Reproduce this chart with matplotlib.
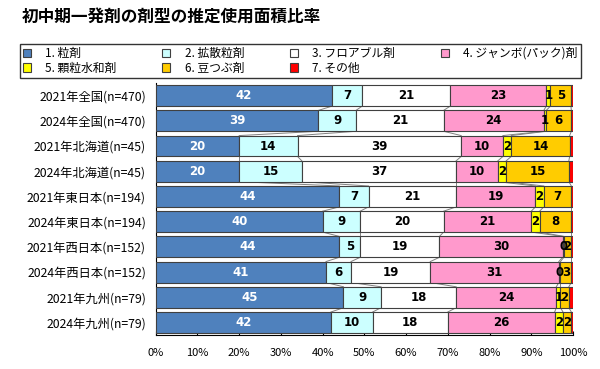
import numpy as np
import matplotlib
matplotlib.use("Agg")
import matplotlib.pyplot as plt

plt.rcParams['font.family'] = ['Noto Sans CJK JP', 'DejaVu Sans']

# 地域・年ごとのカテゴリ
categories = ["2021年全国(n=470)", "2024年全国(n=470)", "2021年北海道(n=45)", "2024年北海道(n=45)",
              "2021年東日本(n=194)", "2024年東日本(n=194)", "2021年西日本(n=152)", "2024年西日本(n=152)",
              "2021年九州(n=79)", "2024年九州(n=79)"]
series_names = ["1. 粒剤", "2. 拡散粒剤", "3. フロアブル剤", "4. ジャンボ(パック)剤",
                "5. 顆粒水和剤", "6. 豆つぶ剤", "7. その他"]

granule   = [42.3, 39.0, 20.0, 20.0, 44.0, 40.0, 44.0, 40.8, 45.0, 42.0]
diffuse   = [7.2, 9.0, 14.0, 15.0, 7.0, 9.0, 5.0, 6.0, 9.0, 10.0]
flowable  = [21.1, 21.0, 39.2, 37.0, 21.0, 20.0, 19.0, 19.0, 18.0, 18.0]
jumbo     = [23.0, 24.0, 10.0, 10.0, 19.0, 21.0, 29.5, 30.8, 24.0, 25.6]
wdg       = [1.0, 0.6, 2.0, 2.0, 2.0, 2.0, 0.3, 0.4, 1.0, 2.0]
mametsubu = [4.9, 6.0, 14.0, 15.0, 6.6, 7.6, 1.8, 2.6, 2.0, 2.0]
other     = [0.5, 0.4, 0.8, 1.0, 0.4, 0.4, 0.4, 0.4, 1.0, 0.4]

series = [granule, diffuse, flowable, jumbo, wdg, mametsubu, other]
colors = ["#4F81BD", "#CCFFFF", "#FFFFFF", "#FF99CC", "#FFFF00", "#FFCC00", "#FF0000"]
text_colors = ["white", "black", "black", "black", "black", "black", None]

fig = plt.figure(figsize=(6, 3.69), dpi=100)
ax = fig.add_axes([0.2595, 0.092, 0.6955, 0.683])

y = np.arange(len(categories))
h = 0.83
left = np.zeros(len(categories))
handles = []
for vals, col, tc, name in zip(series, colors, text_colors, series_names):
    vals = np.array(vals)
    bars = ax.barh(y, vals, left=left, height=h, color=col, edgecolor="#404040",
                   linewidth=0.8, label=name, zorder=3)
    handles.append(bars)
    if tc is not None:
        for yi, l, v in zip(y, left, vals):
            ax.text(l + v / 2, yi, f"{v:.0f}", ha="center", va="center",
                    fontsize=8.5, fontweight="bold", color=tc, family="DejaVu Sans", zorder=4)
    left = left + vals

# 系列線
cum = np.cumsum(np.array(series), axis=0)
for k in range(cum.shape[0] - 1):
    for i in range(len(categories) - 1):
        ax.plot([cum[k, i], cum[k, i + 1]], [i + h / 2, i + 1 - h / 2],
                color="#808080", lw=0.7, zorder=2)

ax.set_xlim(0, 100)
ax.set_ylim(len(categories) - 0.5, -0.5)
ax.set_yticks(y)
ax.set_yticklabels(categories, fontsize=8.8)
ax.tick_params(axis="y", length=0, pad=7)
ax.set_xticks(np.arange(0, 101, 10))
ax.set_xticklabels([f"{v}%" for v in range(0, 101, 10)], fontsize=8)
ax.tick_params(axis="x", direction="in", length=3, pad=9)
for s in ["top", "right"]:
    ax.spines[s].set_visible(False)

fig.text(0.037, 0.955, "初中期一発剤の剤型の推定使用面積比率", fontsize=12, fontweight="bold",
         ha="left", va="center")

# 凡例は行方向に並べる (ncol=4 は列方向に埋まるので並べ替え)
order = [0, 4, 1, 5, 2, 6, 3]
leg = fig.legend([handles[i] for i in order], [series_names[i] for i in order],
                 loc="upper left", bbox_to_anchor=(0.033, 0.789, 0.935, 0.092), mode="expand",
                 ncol=4, fontsize=8.5, frameon=True, fancybox=False, edgecolor="black",
                 handlelength=0.7, handleheight=0.7, borderpad=0.25, labelspacing=0.15,
                 handletextpad=1.2, borderaxespad=0)
leg.get_frame().set_linewidth(1.0)

fig.savefig("out.png", dpi=100)
